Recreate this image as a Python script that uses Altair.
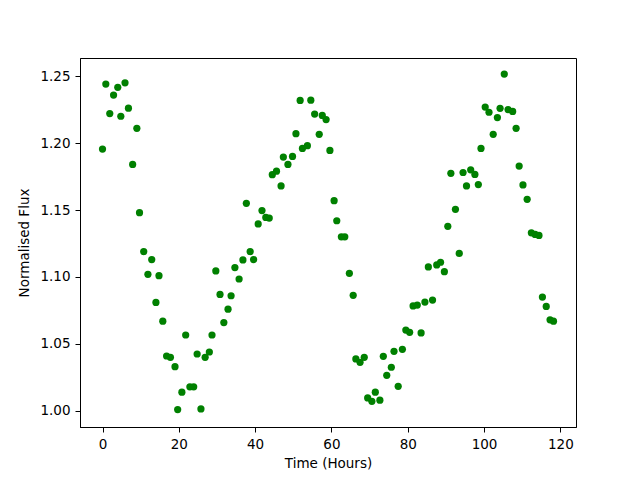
import altair as alt
import pandas as pd

time_hours = [
    0.0, 0.87, 1.9, 2.9, 4.0, 4.8, 5.9, 6.8, 7.9, 9.0,
    9.7, 10.8, 11.9, 12.9, 14.0, 14.8, 15.8, 16.8, 17.8, 19.0,
    19.7, 20.8, 21.8, 22.9, 23.9, 24.8, 25.8, 26.9, 28.0, 28.7,
    29.7, 30.8, 31.8, 32.9, 33.7, 34.7, 35.8, 36.8, 37.7, 38.7,
    39.6, 40.8, 41.8, 42.8, 43.7, 44.5, 45.6, 46.8, 47.4, 48.6,
    49.8, 50.7, 51.8, 52.4, 53.7, 54.6, 55.6, 56.8, 57.6, 58.6,
    59.6, 60.7, 61.4, 62.6, 63.5, 64.7, 65.7, 66.4, 67.5, 68.6,
    69.5, 70.6, 71.5, 72.7, 73.6, 74.5, 75.7, 76.4, 77.5, 78.6,
    79.5, 80.5, 81.4, 82.5, 83.5, 84.5, 85.4, 86.5, 87.6, 88.6,
    89.6, 90.5, 91.3, 92.5, 93.5, 94.5, 95.4, 96.5, 97.6, 98.5,
    99.2, 100.3, 101.3, 102.4, 103.5, 104.2, 105.3, 106.3, 107.5, 108.4,
    109.2, 110.2, 111.3, 112.4, 113.4, 114.4, 115.3, 116.3, 117.3, 118.2,
]

flux = [
    1.1955, 1.244, 1.222, 1.2358, 1.2416, 1.220, 1.245, 1.226, 1.184, 1.211,
    1.148, 1.119, 1.102, 1.113, 1.081, 1.101, 1.067, 1.041, 1.040, 1.033,
    1.001, 1.014, 1.0567, 1.018, 1.018, 1.0425, 1.0015, 1.040, 1.044, 1.0567,
    1.1045, 1.087, 1.066, 1.076, 1.086, 1.107, 1.0985, 1.1127, 1.155, 1.119,
    1.113, 1.1396, 1.1496, 1.1445, 1.144, 1.1764, 1.179, 1.168, 1.1895, 1.184,
    1.190, 1.207, 1.2318, 1.196, 1.198, 1.232, 1.2216, 1.2065, 1.2206, 1.2175,
    1.1945, 1.157, 1.142, 1.130, 1.130, 1.1027, 1.0863, 1.0388, 1.0363, 1.040,
    1.0097, 1.0072, 1.014, 1.008, 1.0408, 1.0266, 1.0326, 1.0445, 1.0184, 1.046,
    1.0604, 1.0587, 1.0784, 1.079, 1.0582, 1.0813, 1.1075, 1.0828, 1.109, 1.111,
    1.104, 1.1378, 1.1774, 1.1505, 1.1176, 1.178, 1.168, 1.180, 1.1766, 1.169,
    1.196, 1.2269, 1.223, 1.2065, 1.219, 1.2259, 1.2515, 1.225, 1.2236, 1.211,
    1.1828, 1.1687, 1.158, 1.133, 1.1318, 1.131, 1.085, 1.078, 1.068, 1.067,
]

x_ticks = [0, 20, 40, 60, 80, 100, 120]
y_ticks = [1.00, 1.05, 1.10, 1.15, 1.20, 1.25]

df = pd.DataFrame({"time": time_hours, "flux": flux})

chart = (
    alt.Chart(df)
    .mark_circle(color="green", opacity=1, size=52)
    .encode(
        x=alt.X(
            "time:Q",
            title="Time (Hours)",
            scale=alt.Scale(domain=[-5.9, 124.1], nice=False, zero=False),
            axis=alt.Axis(values=x_ticks, format="d"),
        ),
        y=alt.Y(
            "flux:Q",
            title="Normalised Flux",
            scale=alt.Scale(domain=[0.988, 1.2635], nice=False, zero=False),
            axis=alt.Axis(values=y_ticks, format=".2f"),
        ),
    )
    .properties(
        width=496,
        height=369,
        autosize=alt.AutoSizeParams(type="none"),
        padding={"left": 72, "top": 50, "right": 56, "bottom": 45},
    )
    .configure_view(stroke="black", strokeWidth=1)
    .configure_axis(
        grid=False,
        domainColor="black",
        tickColor="black",
        tickSize=5,
        labelFont="DejaVu Sans",
        labelFontSize=13.5,
        labelColor="black",
        labelPadding=5,
        titleFont="DejaVu Sans",
        titleFontSize=13.5,
        titleFontWeight="normal",
        titleColor="black",
    )
    .configure_axisX(titlePadding=6)
    .configure_axisY(titlePadding=8)
)

chart.save("out.html", embed_options={"renderer": "svg", "actions": False})
